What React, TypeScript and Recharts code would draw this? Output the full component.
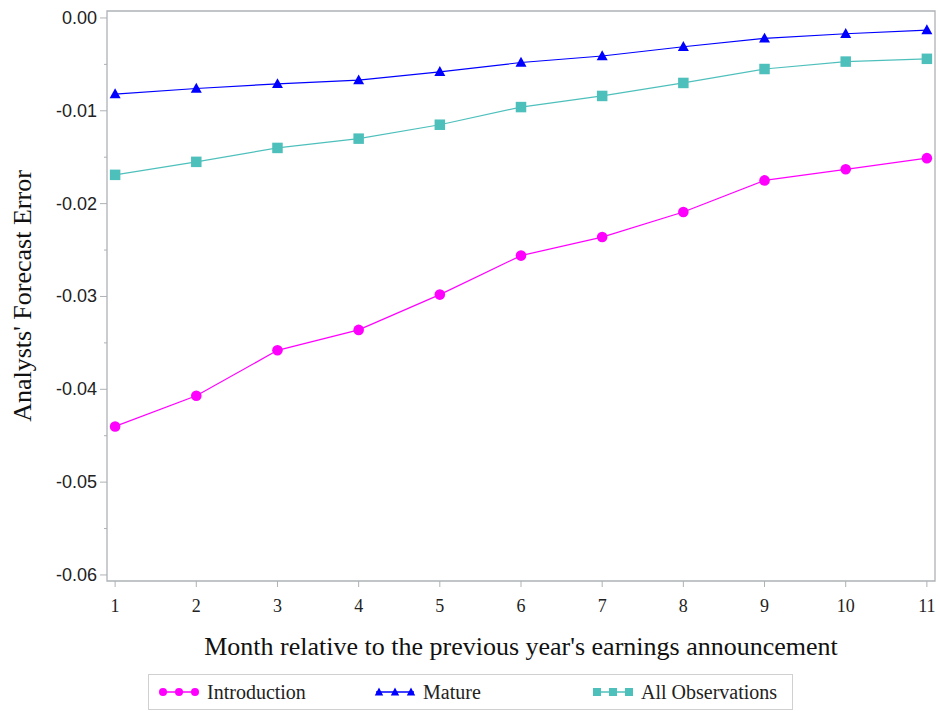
import React from 'react';
import { LineChart, Line, XAxis, YAxis, ReferenceArea, Label } from 'recharts';

const months = [1, 2, 3, 4, 5, 6, 7, 8, 9, 10, 11];
const introduction = [-0.044, -0.0407, -0.0358, -0.0336, -0.0298, -0.0256, -0.0236, -0.0209, -0.0175, -0.0163, -0.0151];
const mature = [-0.0082, -0.0076, -0.0071, -0.0067, -0.0058, -0.0048, -0.0041, -0.0031, -0.0022, -0.0017, -0.0013];
const allObservations = [-0.0169, -0.0155, -0.014, -0.013, -0.0115, -0.0096, -0.0084, -0.007, -0.0055, -0.0047, -0.0044];
const yTicks = [0, -0.005, -0.01, -0.015, -0.02, -0.025, -0.03, -0.035, -0.04, -0.045, -0.05, -0.055, -0.06];
const seriesNames = ['Introduction', 'Mature', 'All Observations'];
const xTitle = "Month relative to the previous year's earnings announcement";
const yTitle = "Analysts' Forecast Error";

const X_DOMAIN: [number, number] = [0.9, 11.1];
const Y_DOMAIN: [number, number] = [-0.06065, 0.00075];

const MAGENTA = '#FF00FF';
const BLUE = '#0000FF';
const TEAL = '#4EC0BC';
const FRAME = '#AEB2B5';
const SERIF = '"Liberation Serif", "Times New Roman", serif';
const SANS = '"Liberation Sans", Arial, sans-serif';

const data = months.map((m, i) => ({
  month: m,
  introduction: introduction[i],
  mature: mature[i],
  allObservations: allObservations[i],
}));

const CircleDot = (props: any) => {
  const { cx, cy } = props;
  if (cx == null || cy == null) return null;
  return <circle cx={cx} cy={cy} r={5.3} fill={MAGENTA} stroke="none" />;
};
const TriangleDot = (props: any) => {
  const { cx, cy } = props;
  if (cx == null || cy == null) return null;
  const s = 11;
  const h = s * 0.9;
  return (
    <path
      d={`M${cx},${cy - h * 0.58} L${cx + s / 2},${cy + h * 0.42} L${cx - s / 2},${cy + h * 0.42} Z`}
      fill={BLUE}
    />
  );
};
const SquareDot = (props: any) => {
  const { cx, cy } = props;
  if (cx == null || cy == null) return null;
  const s = 10.5;
  return <rect x={cx - s / 2} y={cy - s / 2} width={s} height={s} fill={TEAL} />;
};

const YTick = (props: any) => {
  const { x, y, payload } = props;
  const v = payload.value as number;
  const major = Math.abs(v * 100 - Math.round(v * 100)) < 1e-6;
  const label = Math.abs(v) < 1e-9 ? '0.00' : v.toFixed(2);
  return (
    <g>
      <line x1={x - (major ? 7 : 3)} x2={x} y1={y} y2={y} stroke={FRAME} strokeWidth={1} />
      {major && (
        <text x={x - 10} y={y} dy={6} textAnchor="end" fontFamily={SANS} fontSize={18} fill="#222">
          {label}
        </text>
      )}
    </g>
  );
};

const XTick = (props: any) => {
  const { x, y, payload } = props;
  return (
    <g>
      <line x1={x} x2={x} y1={y} y2={y + 6} stroke={FRAME} strokeWidth={1} />
      <text x={x} y={y + 31} textAnchor="middle" fontFamily={SERIF} fontSize={18} fill="#222">
        {payload.value}
      </text>
    </g>
  );
};

const LegendIcon = ({ kind, color }: { kind: string; color: string }) => {
  const xs = [5, 21, 37];
  return (
    <svg width={42} height={14} style={{ display: 'block' }}>
      <line x1={2} x2={40} y1={7} y2={7} stroke={color} strokeWidth={1.5} />
      {xs.map((x) =>
        kind === 'circle' ? (
          <circle key={x} cx={x} cy={7} r={4} fill={color} />
        ) : kind === 'triangle' ? (
          <path key={x} d={`M${x},${2.5} L${x + 4.2},${10.5} L${x - 4.2},${10.5} Z`} fill={color} />
        ) : (
          <rect key={x} x={x - 4} y={3} width={8} height={8} fill={color} />
        )
      )}
    </svg>
  );
};

const legendItems = [
  { name: seriesNames[0], kind: 'circle', color: MAGENTA, left: 9 },
  { name: seriesNames[1], kind: 'triangle', color: BLUE, left: 225 },
  { name: seriesNames[2], kind: 'square', color: TEAL, left: 443 },
];

export default function App() {
  return (
    <div style={{ position: 'absolute', left: 0, top: 0, width: 940, height: 711, background: '#fff' }}>
      <LineChart
        width={940}
        height={711}
        data={data}
        margin={{ top: 11, right: 5, bottom: 70, left: 0 }}
      >
        <XAxis
          dataKey="month"
          type="number"
          domain={X_DOMAIN}
          ticks={months}
          allowDataOverflow
          axisLine={false}
          tickLine={false}
          tickSize={0}
          tickMargin={0}
          tick={<XTick />}
          height={60}
          interval={0}
        >
          <Label
            content={(p: any) => {
              const vb = p.viewBox;
              return (
                <text
                  x={vb.x + vb.width / 2}
                  y={vb.y + 74}
                  textAnchor="middle"
                  fontFamily={SERIF}
                  fontSize={26}
                  fill="#111"
                >
                  {xTitle}
                </text>
              );
            }}
          />
        </XAxis>
        <YAxis
          type="number"
          domain={Y_DOMAIN}
          ticks={yTicks}
          allowDataOverflow
          axisLine={false}
          tickLine={false}
          tickSize={0}
          tickMargin={0}
          tick={<YTick />}
          width={107}
          interval={0}
        >
          <Label
            content={(p: any) => {
              const vb = p.viewBox;
              const cx = 22;
              const cy = vb.y + vb.height / 2;
              return (
                <text
                  x={cx}
                  y={cy}
                  textAnchor="middle"
                  dominantBaseline="central"
                  transform={`rotate(-90, ${cx}, ${cy})`}
                  fontFamily={SERIF}
                  fontSize={26}
                  fill="#111"
                >
                  {yTitle}
                </text>
              );
            }}
          />
        </YAxis>
        <ReferenceArea
          x1={X_DOMAIN[0]}
          x2={X_DOMAIN[1]}
          y1={Y_DOMAIN[0]}
          y2={Y_DOMAIN[1]}
          fill="none"
          stroke={FRAME}
          strokeWidth={1.3}
          ifOverflow="visible"
        />
        <Line
          dataKey="introduction"
          name={seriesNames[0]}
          stroke={MAGENTA}
          strokeWidth={1.2}
          dot={<CircleDot />}
          activeDot={false}
          isAnimationActive={false}
        />
        <Line
          dataKey="mature"
          name={seriesNames[1]}
          stroke={BLUE}
          strokeWidth={1.2}
          dot={<TriangleDot />}
          activeDot={false}
          isAnimationActive={false}
        />
        <Line
          dataKey="allObservations"
          name={seriesNames[2]}
          stroke={TEAL}
          strokeWidth={1.2}
          dot={<SquareDot />}
          activeDot={false}
          isAnimationActive={false}
        />
      </LineChart>
      <div
        style={{
          position: 'absolute',
          left: 148,
          top: 674,
          width: 645,
          height: 36,
          boxSizing: 'border-box',
          border: '1px solid #D0D0D0',
        }}
      >
        {legendItems.map((it) => (
          <div
            key={it.name}
            style={{
              position: 'absolute',
              left: it.left,
              top: 0,
              height: 34,
              display: 'flex',
              alignItems: 'center',
              gap: 7,
              fontFamily: SERIF,
              fontSize: 20,
              color: '#222',
              whiteSpace: 'nowrap',
            }}
          >
            <LegendIcon kind={it.kind} color={it.color} />
            <span>{it.name}</span>
          </div>
        ))}
      </div>
    </div>
  );
}
